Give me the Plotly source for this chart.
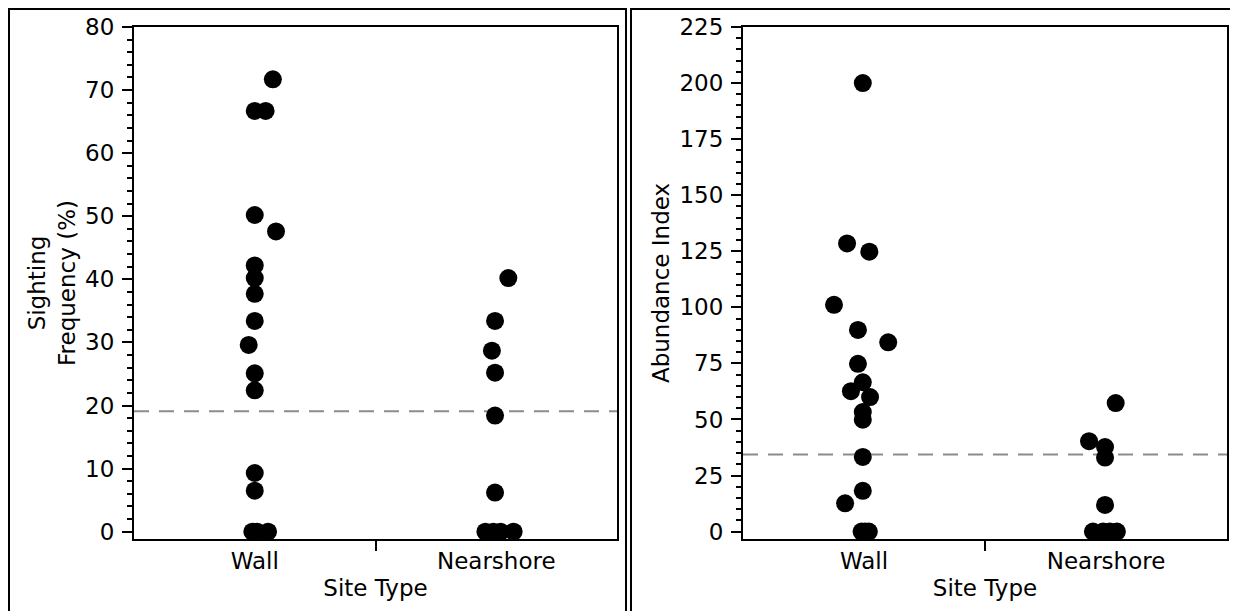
import plotly.graph_objects as go

# The page body adds an 8px margin, so the figure is sized to the window minus that offset
OFF = 8
W, H = 1238 - OFF, 611 - OFF

def px(sx):
    return (sx - OFF) / W

def py(sy):
    return 1 - (sy - OFF) / H

# ---------------- data ----------------
categories = ["Wall", "Nearshore"]

# Left panel: Sighting Frequency (%)
sf_wall = [71.7, 66.7, 66.7, 50.2, 47.6, 42.2, 40.2, 37.7, 33.4, 29.6, 25.1, 22.4, 9.3, 6.5, 0, 0, 0]
sf_wall_jitter = [0.075, 0.0, 0.045, 0.0, 0.088, 0.0, 0.0, 0.0, 0.0, -0.025, 0.0, 0.0, 0.0, 0.0, -0.01, 0.01, 0.055]
sf_near = [40.2, 33.4, 28.7, 25.2, 18.4, 6.2, 0, 0, 0, 0]
sf_near_jitter = [0.05, -0.005, -0.018, -0.005, -0.005, -0.005, -0.045, -0.012, 0.018, 0.072]
sf_reference = 19.1

# Right panel: Abundance Index
ai_wall = [200, 128.5, 124.8, 101.1, 89.9, 84.4, 74.8, 66.6, 62.6, 60.0, 53.3, 49.9, 33.3, 18.2, 12.6, 0, 0, 0]
ai_wall_jitter = [-0.005, -0.07, 0.022, -0.124, -0.025, 0.1, -0.025, -0.005, -0.054, 0.025, -0.005, -0.005, -0.005, -0.005, -0.078, -0.01, 0.005, 0.02]
ai_near = [57.3, 40.3, 37.7, 33.0, 11.9, 0, 0, 0, 0]
ai_near_jitter = [0.04, -0.07, -0.004, -0.004, -0.004, -0.054, -0.012, 0.016, 0.045]
ai_reference = 34.4

# ---------------- figure ----------------
FONT = "DejaVu Sans"
FS = 23
fig = go.Figure()

def add_points(values, jitter, cat_index, xa, ya):
    xs = [cat_index + j for j in jitter]
    fig.add_trace(go.Scatter(
        x=xs, y=values, mode="markers", xaxis=xa, yaxis=ya,
        marker=dict(size=18, color="black", line=dict(width=0)),
        showlegend=False, hoverinfo="y"))

add_points(sf_wall, sf_wall_jitter, 0, "x", "y")
add_points(sf_near, sf_near_jitter, 1, "x", "y")
add_points(ai_wall, ai_wall_jitter, 0, "x2", "y2")
add_points(ai_near, ai_near_jitter, 1, "x2", "y2")

ydom = [py(539), py(27)]

def xaxis_cfg(domain, anchor):
    return dict(
        domain=domain, anchor=anchor, range=[-0.5, 1.5],
        tickvals=[0, 1], ticktext=categories, ticks="", ticklen=0,
        minor=dict(tickvals=[0.5], ticks="outside", ticklen=10, tickwidth=2, tickcolor="black"),
        showline=True, linewidth=2, linecolor="black", mirror=True,
        showgrid=False, zeroline=False,
        tickfont=dict(family=FONT, size=FS, color="black"),
        title=dict(text="Site Type", font=dict(family=FONT, size=FS, color="black"), standoff=7),
        automargin=False,
    )

def yaxis_cfg(anchor, rng, dtick, mdtick, title):
    return dict(
        domain=ydom, anchor=anchor, range=rng,
        tick0=0, dtick=dtick, ticks="outside", ticklen=10, tickwidth=2, tickcolor="black",
        minor=dict(dtick=mdtick, tick0=0, ticks="outside", ticklen=5, tickwidth=1.5, tickcolor="black", showgrid=False),
        showline=True, linewidth=2, linecolor="black", mirror=True,
        showgrid=False, zeroline=False,
        tickfont=dict(family=FONT, size=FS, color="black"),
        ticklabelstandoff=3,
        title=dict(text=title, font=dict(family=FONT, size=FS, color="black"), standoff=3),
        automargin=False,
    )

fig.update_layout(
    width=W, height=H,
    margin=dict(l=0, r=0, t=0, b=0),
    paper_bgcolor="white", plot_bgcolor="white",
    xaxis=xaxis_cfg([px(134), px(617)], "y"),
    xaxis2=xaxis_cfg([px(743), px(1227)], "y2"),
    yaxis=yaxis_cfg("x", [-1.16, 80], 10, 2, "Sighting<br>Frequency (%)"),
    yaxis2=yaxis_cfg("x2", [-3.3, 225], 25, 5, "Abundance Index"),
    showlegend=False,
)

# reference (mean) dashed lines
fig.add_shape(type="line", xref="x domain", yref="y", x0=0, x1=1, y0=sf_reference, y1=sf_reference,
              line=dict(color="#8c8c8c", width=2, dash="15px,10px"), layer="below")
fig.add_shape(type="line", xref="x2 domain", yref="y2", x0=0, x1=1, y0=ai_reference, y1=ai_reference,
              line=dict(color="#8c8c8c", width=2, dash="15px,10px"), layer="below")

# outer panel frames
fig.add_shape(type="rect", xref="paper", yref="paper", x0=px(9), x1=px(626), y0=-0.05, y1=py(9),
              line=dict(color="black", width=2))
fig.add_shape(type="rect", xref="paper", yref="paper", x0=px(631), x1=px(1236), y0=-0.05, y1=py(9),
              line=dict(color="black", width=2))

fig.write_html("out.html")
